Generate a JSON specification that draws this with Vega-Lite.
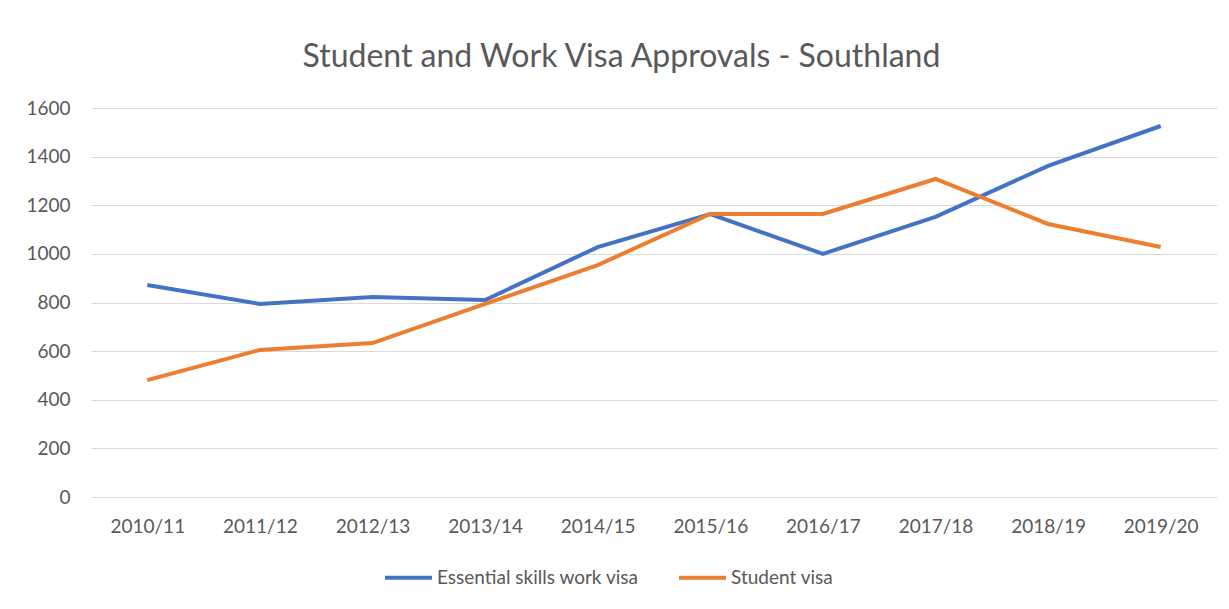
{
  "$schema": "https://vega.github.io/schema/vega-lite/v6.json",
  "width": 1126,
  "height": 389,
  "padding": {"left": 25, "top": 41, "right": 12, "bottom": 0},
  "background": "white",
  "title": {
    "text": "Student and Work Visa Approvals - Southland",
    "font": "Lato",
    "fontSize": 32,
    "fontWeight": "normal",
    "color": "#595959",
    "frame": "bounds",
    "anchor": "middle",
    "offset": 25
  },
  "data": {
    "values": [
      {"year": "2010/11", "series": "Essential skills work visa", "value": 872},
      {"year": "2011/12", "series": "Essential skills work visa", "value": 794},
      {"year": "2012/13", "series": "Essential skills work visa", "value": 823},
      {"year": "2013/14", "series": "Essential skills work visa", "value": 810},
      {"year": "2014/15", "series": "Essential skills work visa", "value": 1028},
      {"year": "2015/16", "series": "Essential skills work visa", "value": 1164},
      {"year": "2016/17", "series": "Essential skills work visa", "value": 1000},
      {"year": "2017/18", "series": "Essential skills work visa", "value": 1152},
      {"year": "2018/19", "series": "Essential skills work visa", "value": 1362},
      {"year": "2019/20", "series": "Essential skills work visa", "value": 1526},
      {"year": "2010/11", "series": "Student visa", "value": 481},
      {"year": "2011/12", "series": "Student visa", "value": 605},
      {"year": "2012/13", "series": "Student visa", "value": 633},
      {"year": "2013/14", "series": "Student visa", "value": 794},
      {"year": "2014/15", "series": "Student visa", "value": 954},
      {"year": "2015/16", "series": "Student visa", "value": 1164},
      {"year": "2016/17", "series": "Student visa", "value": 1164},
      {"year": "2017/18", "series": "Student visa", "value": 1308},
      {"year": "2018/19", "series": "Student visa", "value": 1123},
      {"year": "2019/20", "series": "Student visa", "value": 1028}
    ]
  },
  "mark": {"type": "line", "strokeWidth": 4},
  "encoding": {
    "x": {
      "field": "year",
      "type": "ordinal",
      "scale": {"type": "point", "padding": 0.5},
      "axis": {
        "title": null,
        "labelAngle": 0,
        "grid": false,
        "ticks": false,
        "domain": false,
        "labelFont": "Lato",
        "labelFontSize": 19,
        "labelColor": "#595959",
        "labelPadding": 20
      }
    },
    "y": {
      "field": "value",
      "type": "quantitative",
      "scale": {"domain": [0, 1600]},
      "axis": {
        "title": null,
        "values": [0, 200, 400, 600, 800, 1000, 1200, 1400, 1600],
        "format": "d",
        "domain": false,
        "ticks": false,
        "grid": true,
        "gridColor": "#D9D9D9",
        "gridWidth": 1,
        "labelFont": "Lato",
        "labelFontSize": 19,
        "labelColor": "#595959",
        "labelPadding": 21
      }
    },
    "color": {
      "field": "series",
      "type": "nominal",
      "scale": {
        "domain": ["Essential skills work visa", "Student visa"],
        "range": ["#4472C4", "#ED7D31"]
      },
      "legend": {
        "title": null,
        "orient": "none",
        "legendX": 292,
        "legendY": 444,
        "direction": "horizontal",
        "symbolType": "stroke",
        "symbolSize": 2209,
        "symbolStrokeWidth": 4,
        "labelFont": "Lato",
        "labelFontSize": 19,
        "labelColor": "#595959",
        "labelOffset": 3,
        "labelLimit": 0,
        "columnPadding": 32
      }
    }
  },
  "config": {"view": {"stroke": null}}
}
